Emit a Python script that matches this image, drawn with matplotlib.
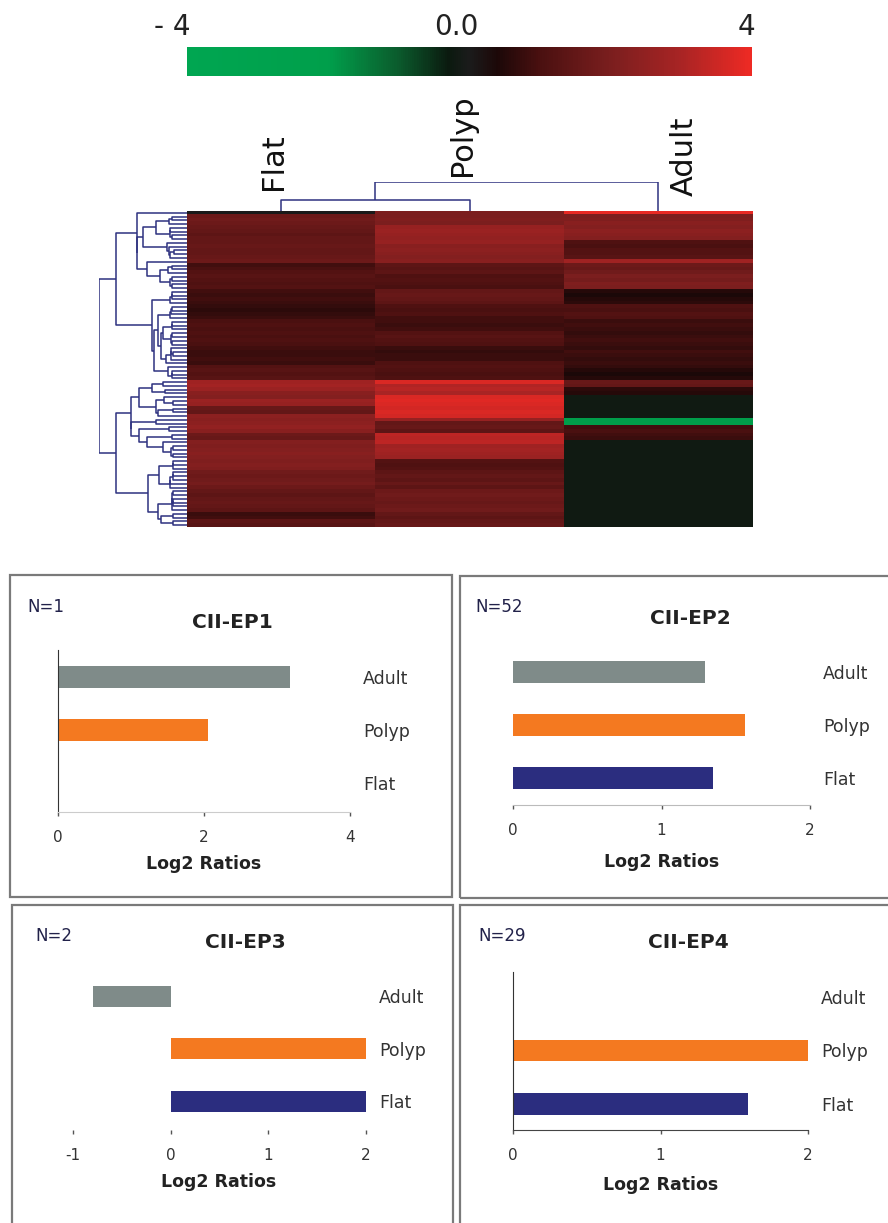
import numpy as np
import matplotlib
matplotlib.use('Agg')
import matplotlib.pyplot as plt
from matplotlib.colors import LinearSegmentedColormap, Normalize
from matplotlib.cm import ScalarMappable
from matplotlib.patches import Rectangle

plt.rcParams['axes.unicode_minus'] = False

# ---- dados do heatmap (log2 ratios, 84 genes x 3 amostras) ----
samples = ['Flat', 'Polyp', 'Adult']
flat_col = [0.0,
            1.7, 1.8, 1.7, 1.6,
            1.5, 1.4, 1.5, 1.5, 1.6, 1.5, 1.5,
            1.6, 1.7,
            0.9, 1.0,
            1.2, 1.3, 1.2, 1.1, 1.2,
            0.9, 0.8, 0.9,
            0.8, 0.7, 0.6, 0.7, 0.8,
            1.0, 1.1, 1.0,
            1.1, 1.0, 1.1, 1.0,
            0.9, 0.8, 0.8, 0.9, 0.8,
            1.2, 1.3, 1.2, 1.3,
            2.8, 2.9, 2.7,
            2.3, 2.2,
            2.7, 2.6,
            1.6, 1.5,
            2.4, 2.3, 2.4, 2.5, 2.3,
            1.7, 1.6,
            2.2, 2.1, 2.2, 2.3, 2.2, 2.1, 2.2, 2.1,
            1.8, 1.7, 1.8, 1.9, 1.7,
            1.5, 1.4, 1.5, 1.6, 1.5, 1.4,
            0.8, 0.9,
            1.4, 1.3]
polyp_col = [2.0, 2.0, 2.1, 2.0,
             2.6, 2.7, 2.6, 2.5, 2.6,
             2.3, 2.4, 2.3, 2.2, 2.3,
             1.4, 1.3, 1.4,
             1.1, 1.2, 1.1, 1.0,
             1.5, 1.6, 1.5, 1.4,
             1.1, 1.0, 1.1,
             0.9, 0.9, 0.8, 0.9,
             1.2, 1.3, 1.2, 1.1,
             0.8, 0.7, 0.8, 0.8,
             1.1, 1.2, 1.1, 1.0, 1.1,
             3.7,
             3.1, 3.2, 3.0,
             3.7, 3.8, 3.7, 3.6, 3.7, 3.6,
             2.6,
             1.5, 1.6, 1.4,
             3.3, 3.2, 3.3,
             2.8, 2.9, 2.8, 2.7,
             1.2, 1.1, 1.2,
             1.4, 1.5, 1.4, 1.6, 1.4,
             1.7, 1.8, 1.7, 1.6, 1.7, 1.8,
             1.5, 1.4, 1.5, 1.6]
adult_col = [3.9,
             2.0, 2.1,
             2.3, 2.2, 2.4, 2.3, 2.2,
             1.1, 1.0, 1.2,
             1.2, 1.3,
             2.8,
             1.7, 1.6, 1.8,
             2.0, 1.9, 2.1, 2.0,
             0.5, 0.4, 0.5, 0.6,
             1.1, 1.0, 1.2, 1.1,
             0.8, 0.9, 0.8, 0.7, 0.8, 0.9,
             0.8, 0.7, 0.9, 0.8, 0.7, 0.8, 0.7,
             0.5, 0.4, 0.5,
             1.6, 1.5,
             0.6, 0.5,
             -0.2, -0.2, -0.2, -0.2, -0.2, -0.2,
             -2.0, -2.0,
             0.9, 1.0, 0.9, 0.8,
             -0.2, -0.2, -0.2, -0.2, -0.2, -0.2, -0.2, -0.2,
             -0.2, -0.2, -0.2, -0.2, -0.2, -0.2, -0.2, -0.2,
             -0.2, -0.2, -0.2, -0.2, -0.2, -0.2, -0.2]

# ---- dados dos gráficos de barras ----
groups = ['CII-EP1', 'CII-EP2', 'CII-EP3', 'CII-EP4']
n_genes = [1, 52, 2, 29]
flat_vals = [0.0, 1.35, 2.0, 1.59]
polyp_vals = [2.05, 1.56, 2.0, 2.0]
adult_vals = [3.18, 1.29, -0.8, 0.0]
x_ticks = [[0, 2, 4], [0, 1, 2], [-1, 0, 1, 2], [0, 1, 2]]

W, H = 888, 1223
fig = plt.figure(figsize=(W / 100, H / 100), dpi=100)


def px_axes(x0, y0, x1, y1):
    # eixos posicionados em pixels (origem no canto superior esquerdo)
    return fig.add_axes([x0 / W, 1 - y1 / H, (x1 - x0) / W, (y1 - y0) / H])


def px_text(x, y, s, **kw):
    fig.text(x / W, 1 - y / H, s, **kw)


# mapa de cores verde-preto-vermelho
cmap = LinearSegmentedColormap.from_list('gbr', [
    (0.0, '#00a651'), (0.25, '#009f4b'), (0.375, '#0b5a2c'),
    (0.4625, '#0b1a0f'), (0.5, '#1b1b1b'), (0.55, '#1c0808'),
    (0.625, '#4a1010'), (0.75, '#7a1e1e'), (0.875, '#a82424'),
    (1.0, '#ee2a24')])
norm = Normalize(-4, 4)

# barra de cores
cax = px_axes(187, 47, 752, 76)
cb = fig.colorbar(ScalarMappable(norm=norm, cmap=cmap), cax=cax, orientation='horizontal')
cb.set_ticks([])
cb.outline.set_visible(False)
px_text(172, 27, '- 4', fontsize=20, ha='center', va='center', color='#222')
px_text(456, 27, '0.0', fontsize=20, ha='center', va='center', color='#222')
px_text(746, 27, '4', fontsize=20, ha='center', va='center', color='#222')

# heatmap
data = np.array([flat_col, polyp_col, adult_col]).T
ax_h = px_axes(187, 211, 752, 527)
ax_h.imshow(data, cmap=cmap, norm=norm, aspect='auto', interpolation='nearest')
ax_h.axis('off')


# agrupamento tipo Ward, só entre vizinhos (mantém a ordem das linhas)
def arvore_adjacente(X):
    cl = [[X[i].astype(float), 1, float(i), -1.0] for i in range(len(X))]  # centro, tamanho, posição, altura
    segs = []
    while len(cl) > 1:
        d = [np.sqrt(2.0 * a[1] * b[1] / (a[1] + b[1])) * np.linalg.norm(a[0] - b[0])
             for a, b in zip(cl[:-1], cl[1:])]
        k = int(np.argmin(d))
        a, b = cl[k], cl[k + 1]
        h = max(d[k], a[3], b[3])
        segs.append((a[2], a[3], b[2], b[3], h))
        c = (a[0] * a[1] + b[0] * b[1]) / (a[1] + b[1])
        cl[k:k + 2] = [[c, a[1] + b[1], (a[2] + b[2]) / 2, h]]
    return segs


def desenha_dendro(ax, segs, horizontal, off_frac, expo):
    segs = [(pa, ha ** expo if ha >= 0 else ha, pb, hb ** expo if hb >= 0 else hb, h ** expo)
            for pa, ha, pb, hb, h in segs]
    hmax = max(s[4] for s in segs)
    off = hmax * off_frac
    for pa, ha, pb, hb, h in segs:
        ha = -off if ha < 0 else ha
        hb = -off if hb < 0 else hb
        xs = [ha, h, h, hb]
        ys = [pa, pa, pb, pb]
        if horizontal:
            ax.plot(xs, ys, color='#2e3280', lw=1.1, solid_capstyle='butt')
        else:
            ax.plot(ys, xs, color='#2e3280', lw=1.1, solid_capstyle='butt')
    return hmax, off


n = len(flat_col)
ax_r = px_axes(99, 211, 187, 527)
hmax, off = desenha_dendro(ax_r, arvore_adjacente(data), True, 0.06, 0.5)
ax_r.set_xlim(hmax, -off)
ax_r.set_ylim(n - 0.5, -0.5)
ax_r.axis('off')

ax_c = px_axes(187, 182, 752, 211)
hmax, off = desenha_dendro(ax_c, arvore_adjacente(data.T), False, 0.0, 1.0)
ax_c.set_ylim(0, hmax)
ax_c.set_xlim(-0.5, 2.5)
ax_c.axis('off')

# rótulos das colunas
px_text(273, 190, 'Flat', fontsize=22, rotation=90, ha='center', va='bottom', color='#111')
px_text(463, 176, 'Polyp', fontsize=22, rotation=90, ha='center', va='bottom', color='#111')
px_text(684, 196, 'Adult', fontsize=22, rotation=90, ha='center', va='bottom', color='#111')

# ---- painéis de barras ----
bar_colors = ['#2b2d7f', '#f47920', '#7f8b89']
boxes = [(10, 575, 452, 897), (460, 576, 892, 898), (12, 905, 453, 1226), (460, 905, 892, 1226)]
axes_px = [(58, 650, 350, 812), (513, 645, 810, 805), (73, 970, 366, 1130), (513, 972, 808, 1130)]
ylims = [(-0.55, 2.51), (-0.51, 2.51), (-0.55, 2.5), (-0.49, 2.47)]
title_px = [(232, 622), (690, 619), (245, 942), (688, 943)]
n_px = [(27, 607), (475, 607), (35, 936), (478, 936)]
xlabel_px = [(204, 864), (662, 862), (219, 1182), (661, 1185)]

for i in range(4):
    x0, y0, x1, y1 = boxes[i]
    fig.patches.append(Rectangle((x0 / W, 1 - y1 / H), (x1 - x0) / W, (y1 - y0) / H,
                                 transform=fig.transFigure, fill=False,
                                 edgecolor='#7a7a7a', lw=1.6))
    ax = px_axes(*axes_px[i])
    vals = [flat_vals[i], polyp_vals[i], adult_vals[i]]
    ax.barh(range(3), vals, height=0.4, color=bar_colors)
    ax.set_xlim(x_ticks[i][0], x_ticks[i][-1])
    ax.set_ylim(*ylims[i])
    ax.set_xticks(x_ticks[i])
    ax.set_xticklabels([str(t) for t in x_ticks[i]])
    ax.set_yticks(range(3))
    ax.set_yticklabels(samples)
    ax.yaxis.tick_right()
    ax.tick_params(axis='y', length=0, pad=9.5, labelsize=12.5, labelcolor='#333')
    ax.tick_params(axis='x', length=3, width=1, pad=10, labelsize=11, labelcolor='#333', color='#555')
    ax.set_facecolor('none')
    for s in ['top', 'right']:
        ax.spines[s].set_visible(False)
    if i == 0:
        ax.spines['left'].set_color('#333')
        ax.spines['bottom'].set_color('#cccccc')
    elif i == 1:
        ax.spines['left'].set_visible(False)
        ax.spines['bottom'].set_color('#bbbbbb')
    elif i == 2:
        ax.spines['left'].set_visible(False)
        ax.spines['bottom'].set_visible(False)
    else:
        ax.spines['left'].set_color('#333')
        ax.spines['bottom'].set_color('#444')

    px_text(*title_px[i], groups[i], fontsize=14.5, fontweight='bold', ha='center', va='center', color='#222')
    px_text(*n_px[i], 'N=%d' % n_genes[i], fontsize=12, ha='left', va='center', color='#22224a')
    px_text(*xlabel_px[i], 'Log2 Ratios', fontsize=12.5, fontweight='bold', ha='center', va='center', color='#222')

fig.savefig('out.png', dpi=100)
